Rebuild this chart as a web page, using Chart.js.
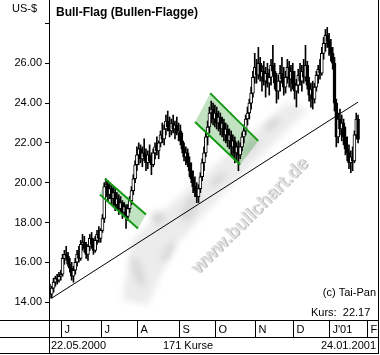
<!DOCTYPE html>
<html>
<head>
<meta charset="utf-8">
<script src="https://cdn.jsdelivr.net/npm/chart.js@4.4.0/dist/chart.umd.min.js"></script>
<style>
  html, body { margin: 0; padding: 0; background: #fff; }
</style>
</head>
<body>
<canvas id="chart" width="380" height="355"></canvas>
<script>
// daily bars 22.05.2000 - 24.01.2001 (171 Kurse)
const opens = [
  14.6,14.4,14.7,15.0,15.2,15.1,15.3,15.4,16.2,16.4,
  16.3,15.9,15.7,15.3,15.6,16.0,16.4,16.2,16.9,17.0,
  16.7,16.4,16.8,17.2,16.9,16.6,17.1,17.4,17.2,17.6,
  18.2,19.8,19.9,19.4,19.7,19.2,19.5,18.9,19.2,18.7,
  19.0,18.5,18.8,18.3,18.7,19.1,19.6,20.2,20.9,21.4,
  21.7,21.2,21.5,21.3,21.0,21.4,21.1,20.9,21.5,21.8,
  21.6,22.0,22.4,22.2,22.7,23.1,22.8,22.6,23.0,22.7,
  22.9,22.5,22.6,22.1,21.7,21.3,21.5,21.0,20.6,20.2,
  19.8,19.6,19.3,19.7,20.3,21.0,21.5,22.3,22.8,23.5,
  23.7,23.2,23.5,23.0,23.3,22.7,23.0,22.4,22.7,22.1,
  22.4,21.8,22.1,21.5,21.8,21.4,21.8,22.3,22.6,23.2,
  23.5,24.0,24.5,25.3,25.8,25.4,26.0,25.3,25.6,25.1,
  25.5,25.0,25.3,25.9,25.6,25.0,24.6,25.1,25.5,25.2,
  24.8,25.3,25.8,25.2,25.6,25.0,24.6,24.9,25.4,25.1,
  25.6,25.3,25.9,24.9,24.4,24.7,24.2,24.8,25.4,25.7,
  25.5,26.5,27.0,27.4,27.1,26.8,26.5,26.0,24.0,22.3,
  23.2,22.7,23.0,22.3,21.7,21.5,21.0,21.3,21.1,22.4,
  23.2
];
const highs = [
  14.9,14.8,15.2,15.3,15.4,15.5,15.6,16.4,16.6,16.8,
  16.5,16.2,16.0,15.8,16.2,16.6,16.8,17.1,17.4,17.3,
  17.0,16.9,17.4,17.5,17.2,17.3,17.6,17.8,17.7,18.4,
  20.0,20.2,20.1,20.0,19.9,19.8,19.7,19.5,19.4,19.3,
  19.1,19.0,18.9,18.9,19.3,19.8,20.4,21.1,21.8,22.0,
  21.9,21.8,22.2,21.7,21.6,21.9,21.5,21.7,22.0,22.3,
  22.1,22.6,23.0,22.9,23.4,23.6,23.3,23.2,23.4,23.1,
  23.3,23.0,22.9,22.5,22.0,21.8,21.7,21.3,21.0,20.6,
  20.3,20.0,19.9,20.5,21.2,21.8,22.6,23.1,23.8,24.1,
  24.0,23.9,23.8,23.6,23.5,23.3,23.2,23.0,22.9,22.7,
  22.6,22.4,22.3,22.0,22.1,22.0,22.5,22.9,23.4,23.8,
  24.2,24.8,25.6,26.5,26.2,26.8,26.3,25.9,26.1,25.8,
  26.0,25.7,26.2,26.9,26.0,25.5,25.4,25.9,26.3,25.8,
  25.6,26.2,26.1,25.9,26.0,25.6,25.2,25.7,26.0,25.9,
  26.2,26.9,26.1,25.3,25.0,25.1,25.0,25.6,25.9,26.2,
  26.8,27.3,27.7,27.8,27.5,27.2,26.8,26.3,24.2,23.5,
  23.7,23.4,23.2,22.8,22.3,21.9,21.6,21.8,22.6,23.5,
  23.4
];
const lows = [
  14.2,14.2,14.5,14.8,14.9,15.0,15.1,15.3,15.9,16.1,
  15.8,15.5,15.1,15.0,15.4,15.8,16.0,16.1,16.6,16.5,
  16.2,16.1,16.6,16.7,16.4,16.5,16.9,17.0,17.0,17.5,
  18.0,19.3,19.1,19.2,18.9,18.8,18.6,18.7,18.4,18.5,
  18.2,18.3,17.7,18.1,18.5,18.9,19.4,20.0,20.6,20.9,
  21.0,20.8,21.1,20.6,20.7,21.0,20.4,20.8,21.2,21.4,
  21.2,21.8,22.0,21.9,22.4,22.6,22.3,22.4,22.5,22.2,
  22.4,22.1,21.9,21.5,21.1,20.9,20.8,20.3,20.0,19.5,
  19.3,19.0,19.0,19.5,20.1,20.6,21.3,21.9,22.5,23.0,
  22.9,22.8,22.7,22.6,22.4,22.3,22.1,22.0,21.8,21.7,
  21.4,21.3,21.0,21.1,20.6,21.2,21.6,22.0,22.4,22.9,
  23.2,23.7,24.3,25.0,25.0,25.2,25.1,24.6,24.9,24.3,
  24.8,24.4,24.9,25.4,24.7,24.0,24.2,24.6,25.0,24.4,
  24.5,25.0,24.8,24.6,24.7,24.2,23.8,24.5,24.9,24.6,
  25.0,25.1,24.7,24.1,23.8,23.7,24.0,24.6,25.0,25.2,
  25.4,26.2,26.6,26.8,26.4,26.1,25.7,23.6,21.8,22.0,
  22.4,22.1,21.9,21.4,21.1,20.7,20.5,20.6,21.0,22.2,
  22.0
];
const closes = [
  14.4,14.7,15.0,15.2,15.1,15.3,15.4,16.2,16.4,16.3,
  15.9,15.7,15.3,15.6,16.0,16.4,16.2,16.9,17.0,16.7,
  16.4,16.8,17.2,16.9,16.6,17.1,17.4,17.2,17.6,18.2,
  19.8,19.9,19.4,19.7,19.2,19.5,18.9,19.2,18.7,19.0,
  18.5,18.8,18.3,18.7,19.1,19.6,20.2,20.9,21.4,21.7,
  21.2,21.5,21.3,21.0,21.4,21.1,20.9,21.5,21.8,21.6,
  22.0,22.4,22.2,22.7,23.1,22.8,22.6,23.0,22.7,22.9,
  22.5,22.6,22.1,21.7,21.3,21.5,21.0,20.6,20.2,19.8,
  19.6,19.3,19.7,20.3,21.0,21.5,22.3,22.8,23.5,23.7,
  23.2,23.5,23.0,23.3,22.7,23.0,22.4,22.7,22.1,22.4,
  21.8,22.1,21.5,21.8,21.4,21.8,22.3,22.6,23.2,23.5,
  24.0,24.5,25.3,25.8,25.4,26.0,25.3,25.6,25.1,25.5,
  25.0,25.3,25.9,25.6,25.0,24.6,25.1,25.5,25.2,24.8,
  25.3,25.8,25.2,25.6,25.0,24.6,24.9,25.4,25.1,25.6,
  25.3,25.9,24.9,24.4,24.7,24.2,24.8,25.4,25.7,25.5,
  26.5,27.0,27.4,27.1,26.8,26.5,26.0,24.0,22.3,23.2,
  22.7,23.0,22.3,21.7,21.5,21.0,21.3,21.1,22.4,23.2,
  22.17
];

// month row: index of first bar in each month
const monthStarts = [7, 29, 49, 72, 92, 114, 135, 155, 176];
const monthNames = ['J', 'J', 'A', 'S', 'O', 'N', 'D', "J'01", 'F'];

const yTicks = [14, 16, 18, 20, 22, 24, 26, 28];

// support line + the two flags (bar index, price)
const trendX = [1, 170];
const trendY = [14.2, 24.05];
const flag1UpperX = [30.4, 53.0], flag1UpperY = [20.2, 18.4];
const flag1LowerX = [27.6, 48.6], flag1LowerY = [19.4, 17.7];
const flag2UpperX = [88.4, 114.9], flag2UpperY = [24.5, 22.1];
const flag2LowerX = [80.1, 105.0], flag2LowerY = [23.05, 20.9];

const firstDate = '22.05.2000';
const lastDate = '24.01.2001';
const barCount = '171 Kurse';
const lastPrice = '22.17';

const FONT = '"Liberation Sans", Arial, sans-serif';

const pts = (xs, ys) => xs.map((x, i) => ({x: x, y: ys[i]}));
const band = (ux, uy, lx, ly) => [
  {x: lx[0], y: ly[0]}, {x: ux[0], y: uy[0]}, {x: ux[1], y: uy[1]},
  {x: lx[1], y: ly[1]}, {x: lx[0], y: ly[0]}
];

const FLAG_GREEN = '#129a12';
const FLAG_FILL = 'rgba(0,140,0,0.24)';

const decor = {
  id: 'decor',
  beforeDatasetsDraw(chart) {
    // bullchart.de watermark
    const ctx = chart.ctx;
    const a = chart.chartArea;
    ctx.save();
    ctx.beginPath();
    ctx.rect(a.left, a.top, a.right - a.left, a.bottom - a.top);
    ctx.clip();
    ctx.filter = 'blur(3px)';
    ctx.fillStyle = '#ececec';
    ctx.beginPath();
    ctx.moveTo(122, 300); ctx.lineTo(132, 240); ctx.lineTo(195, 182);
    ctx.lineTo(288, 102); ctx.lineTo(308, 110); ctx.lineTo(225, 192);
    ctx.lineTo(172, 250); ctx.lineTo(148, 305);
    ctx.closePath(); ctx.fill();
    ctx.fillStyle = '#d8d8d8';
    [[138, 272, 5, 16, -0.3], [168, 252, 4, 12, 0.5], [190, 208, 7, 15, 0.4],
     [158, 218, 7, 7, 0], [218, 180, 4, 10, 0.8], [250, 148, 4, 12, 0.8],
     [272, 125, 4, 10, 0.8]].forEach(e => {
      ctx.beginPath();
      ctx.ellipse(e[0], e[1], e[2], e[3], e[4], 0, Math.PI * 2);
      ctx.fill();
    });
    ctx.filter = 'none';
    ctx.translate(250, 216);
    ctx.rotate(-0.78);
    ctx.font = 'bold 19px ' + FONT;
    ctx.textAlign = 'center';
    ctx.textBaseline = 'middle';
    ctx.fillStyle = '#bdbdbd';
    ctx.fillText('www.bullchart.de', 1, 1);
    ctx.fillStyle = '#e2e2e2';
    ctx.fillText('www.bullchart.de', 0, 0);
    ctx.restore();
  },
  afterDraw(chart) {
    const ctx = chart.ctx;
    const x = chart.scales.x;
    ctx.save();
    ctx.strokeStyle = '#000';
    ctx.lineWidth = 1;
    ctx.beginPath();
    ctx.moveTo(0, 320.5); ctx.lineTo(379, 320.5);
    ctx.moveTo(0, 337.5); ctx.lineTo(379, 337.5);
    ctx.moveTo(0, 353.5); ctx.lineTo(379, 353.5);
    ctx.moveTo(49.5, 0); ctx.lineTo(49.5, 354);
    ctx.moveTo(378.5, 0); ctx.lineTo(378.5, 354);
    const seps = monthStarts.map(s => Math.round(x.getPixelForValue(s - 0.5)) - 0.5);
    seps.forEach(px => { ctx.moveTo(px, 321); ctx.lineTo(px, 337); });
    ctx.stroke();

    ctx.fillStyle = '#000';
    ctx.textBaseline = 'middle';
    ctx.font = '11px ' + FONT;
    ctx.textAlign = 'left';
    seps.forEach((px, i) => ctx.fillText(monthNames[i], px + 3, 329.5));
    ctx.fillText(firstDate, 51, 346);
    ctx.fillText('US-$', 12, 8.5);
    ctx.fillText('Kurs:  ' + lastPrice, 311, 313);
    ctx.textAlign = 'center';
    ctx.fillText(barCount, 188, 346);
    ctx.textAlign = 'right';
    ctx.fillText(lastDate, 376, 346);
    ctx.fillText('(c) Tai-Pan', 376, 293);
    ctx.textAlign = 'left';
    ctx.font = 'bold 12px ' + FONT;
    ctx.fillText('Bull-Flag (Bullen-Flagge)', 56, 12.5);
    ctx.restore();
  }
};

const idx = closes.map((c, i) => i);

new Chart(document.getElementById('chart'), {
  type: 'bar',
  data: {
    datasets: [
      { type: 'line', data: pts(flag1UpperX, flag1UpperY), borderColor: FLAG_GREEN, borderWidth: 2, pointRadius: 0, fill: false, order: 0 },
      { type: 'line', data: pts(flag1LowerX, flag1LowerY), borderColor: FLAG_GREEN, borderWidth: 2, pointRadius: 0, fill: false, order: 0 },
      { type: 'line', data: pts(flag2UpperX, flag2UpperY), borderColor: FLAG_GREEN, borderWidth: 2, pointRadius: 0, fill: false, order: 0 },
      { type: 'line', data: pts(flag2LowerX, flag2LowerY), borderColor: FLAG_GREEN, borderWidth: 2, pointRadius: 0, fill: false, order: 0 },
      { type: 'line', data: pts(trendX, trendY), borderColor: '#000', borderWidth: 1, pointRadius: 0, fill: false, order: 1 },
      {
        data: idx.map(i => ({x: i, y: [opens[i], closes[i]]})),
        backgroundColor: c => closes[c.dataIndex] >= opens[c.dataIndex] ? '#fff' : '#000',
        borderColor: '#000', borderWidth: 1, borderSkipped: false,
        barThickness: 3, grouped: false, order: 2
      },
      {
        data: idx.map(i => ({x: i, y: [lows[i], highs[i]]})),
        backgroundColor: '#000', borderWidth: 0,
        barThickness: 1, grouped: false, order: 3
      },
      { type: 'line', data: band(flag1UpperX, flag1UpperY, flag1LowerX, flag1LowerY), borderWidth: 0, pointRadius: 0, backgroundColor: FLAG_FILL, fill: 'shape', order: 4 },
      { type: 'line', data: band(flag2UpperX, flag2UpperY, flag2LowerX, flag2LowerY), borderWidth: 0, pointRadius: 0, backgroundColor: FLAG_FILL, fill: 'shape', order: 4 }
    ]
  },
  options: {
    responsive: false,
    animation: false,
    devicePixelRatio: 1,
    layout: { padding: { top: 0, left: 0, right: 2, bottom: 35 } },
    plugins: { legend: { display: false }, tooltip: { enabled: false } },
    scales: {
      x: { type: 'linear', min: -0.5, max: 181, offset: false, display: false },
      y: {
        min: 13.1, max: 29.18,
        afterFit: s => { s.width = 49; s.paddingTop = 0; s.paddingBottom = 0; },
        afterBuildTicks: s => { s.ticks = yTicks.map(v => ({value: v})); },
        ticks: {
          color: '#000', padding: 3,
          font: { family: FONT, size: 11 },
          callback: v => v <= 26 ? v.toFixed(2) : ''
        },
        grid: { drawOnChartArea: false, drawTicks: true, tickLength: 4, color: '#000' },
        border: { display: true, color: '#000' }
      }
    }
  },
  plugins: [decor]
});
</script>
</body>
</html>
